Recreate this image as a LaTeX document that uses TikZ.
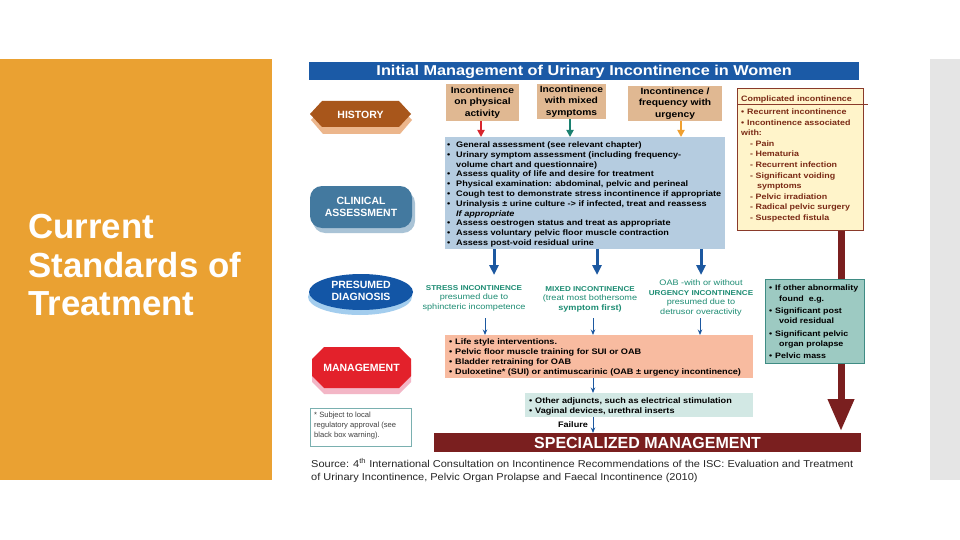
\documentclass[tikz,border=0pt]{standalone}
\usepackage{fontspec}
\setmainfont{Liberation Sans}
\newfontfamily\wfont[FakeStretch=1.14]{Liberation Sans}
\newfontfamily\sfont[FakeStretch=1.1]{Liberation Sans}
\usetikzlibrary{arrows.meta,shapes.geometric,calc}
\definecolor{orangebg}{HTML}{EAA132}
\definecolor{graybar}{HTML}{E5E5E5}
\definecolor{titleblue}{HTML}{1B5AA6}
\definecolor{tanc}{HTML}{E0B892}
\definecolor{clinc}{HTML}{B5CCE0}
\definecolor{compfill}{HTML}{FFF4CA}
\definecolor{compdraw}{HTML}{8A3A2A}
\definecolor{comptext}{HTML}{7A2A15}
\definecolor{tealfill}{HTML}{9DCAC2}
\definecolor{tealdraw}{HTML}{3F8C84}
\definecolor{salmon}{HTML}{F8BBA0}
\definecolor{adjc}{HTML}{D2E8E4}
\definecolor{maroon}{HTML}{7A1F1F}
\definecolor{diagt}{HTML}{1D8C73}
\definecolor{histc}{HTML}{A8561B}
\definecolor{histsh}{HTML}{ECB68C}
\definecolor{clinbl}{HTML}{43799F}
\definecolor{clinsh}{HTML}{A9C3D6}
\definecolor{presc}{HTML}{1356A6}
\definecolor{pressh}{HTML}{A3CDEE}
\definecolor{mgmtc}{HTML}{E3212B}
\definecolor{mgmtsh}{HTML}{F3B6C6}
\definecolor{arrred}{HTML}{D8262E}
\definecolor{arrteal}{HTML}{1A8070}
\definecolor{arrorange}{HTML}{F0A030}
\definecolor{arrblue}{HTML}{1C58A0}
\definecolor{footdraw}{HTML}{7AB0B0}
\newcommand{\mybul}[2][9pt]{\makebox[#1][l]{\textbullet}#2}
\newcommand{\mycont}[2][9pt]{\hspace*{#1}#2}
\newcommand{\capsb}[1]{{\fontsize{7.1}{9.4}\selectfont\bfseries #1}}
\begin{document}
\begin{tikzpicture}[x=1pt,y=-1pt,
  every node/.style={inner sep=0pt},
  rbox/.style={rectangle, anchor=north west},
  stagelbl/.style={text=white, font=\fontsize{10.5}{12.5}\selectfont\bfseries, align=center},
  listtxt/.style={anchor=north west, align=left, font=\wfont\fontsize{8}{9.8}\selectfont\bfseries},
  topbox/.style={fill=tanc, align=center, font=\wfont\fontsize{9}{11.3}\selectfont\bfseries},
  diagtxt/.style={text=diagt, align=center, font=\wfont\fontsize{8}{9.4}\selectfont},
  bigarr/.style={line width=3pt, arrblue, -{Triangle[width=9pt,length=10pt]}},
  toparr/.style={line width=2.2pt, -{Triangle[width=7pt,length=7pt]}},
  thinarr/.style={line width=0.9pt, arrblue, -{Stealth[width=4.5pt,length=5.5pt]}}]
\useasboundingbox (0,0) rectangle (960,540);
\fill[white] (0,0) rectangle (960,540);
% side panels
\fill[orangebg] (0,59) rectangle (272,480);
\fill[graybar] (930,59) rectangle (960,480);
\node[anchor=north west, align=left, text=white, font=\fontsize{34.8}{38.5}\selectfont\bfseries] (sidetitle) at (28,214) {Current\\Standards of\\Treatment};
% title bar
\node[rbox, fill=titleblue, minimum width=550, minimum height=18] (title) at (309,62) {};
\node[text=white, font=\wfont\fontsize{14.3}{15}\selectfont\bfseries] (titletxt) at ($(title.center)+(0,0.5)$) {Initial Management of Urinary Incontinence in Women};
% stage shapes
\fill[histsh] (311,120)--(323,107)--(400,107)--(412,120)--(400,134)--(323,134)--cycle;
\fill[histc] (310,114)--(322,101)--(399,101)--(411,114)--(399,127)--(322,127)--cycle;
\node[stagelbl] (hist) at (360.5,115) {HISTORY};
\fill[clinsh, rounded corners=12pt] (313,191) rectangle (415,233);
\fill[clinbl, rounded corners=12pt] (310,186) rectangle (412,228);
\node[stagelbl] (clinlbl) at (361,207) {CLINICAL\\ASSESSMENT};
\fill[pressh] (360,297) ellipse [x radius=52, y radius=18];
\fill[presc] (361,292) ellipse [x radius=52, y radius=18];
\node[stagelbl] (preslbl) at (361,291) {PRESUMED\\DIAGNOSIS};
\fill[mgmtsh] (324,353)--(399,353)--(411,365)--(411,382)--(399,394)--(324,394)--(312,382)--(312,365)--cycle;
\fill[mgmtc] (324,347)--(399,347)--(411,359)--(411,376)--(399,388)--(324,388)--(312,376)--(312,359)--cycle;
\node[stagelbl] (mgmtlbl) at (361.5,368) {MANAGEMENT};
% footnote box
\node[rbox, draw=footdraw, line width=0.6pt, fill=white, minimum width=101, minimum height=38] (foot) at (310,408) {};
\node[anchor=north west, align=left, text=black!75, font=\fontsize{7.6}{10}\selectfont] (foottxt) at (314,412) {* Subject to local\\regulatory approval (see\\black box warning).};
% top boxes
\node[topbox, minimum width=73, minimum height=37] (t1) at (482.5,102.5) {Incontinence\\on physical\\activity};
\node[topbox, minimum width=69, minimum height=35] (t2) at (571.5,101.5) {Incontinence\\with mixed\\symptoms};
\node[topbox, minimum width=94, minimum height=35] (t3) at (675,103.5) {Incontinence /\\frequency with\\urgency};
% clinical assessment box
\node[rbox, fill=clinc, minimum width=280, minimum height=112] (clin) at (445,137) {};
\node[listtxt] (clintxt) at (447,141.5) {\mybul{General assessment (see relevant chapter)}\\
\mybul{Urinary symptom assessment (including frequency-}\\
\mycont{volume chart and questionnaire)}\\
\mybul{Assess quality of life and desire for treatment}\\
\mybul{Physical examination: abdominal, pelvic and perineal}\\
\mybul{Cough test to demonstrate stress incontinence if appropriate}\\
\mybul{Urinalysis ± urine culture -> if infected, treat and reassess}\\
\mycont{\itshape If appropriate}\\
\mybul{Assess oestrogen status and treat as appropriate}\\
\mybul{Assess voluntary pelvic floor muscle contraction}\\
\mybul{Assess post-void residual urine}};
% complicated incontinence
\node[rbox, fill=compfill, draw=compdraw, line width=0.8pt, minimum width=126, minimum height=142] (comp) at (737,88) {};
\coordinate (hl) at (737,104.5);
\draw[compdraw, line width=0.8pt] (hl) -- ($(hl -| comp.east)+(4,0)$);
\node[listtxt, text=comptext, font=\wfont\fontsize{7.8}{10.6}\selectfont\bfseries] (comptxt) at (741,95.5) {Complicated incontinence\\[2.5pt]
\mybul[6pt]{Recurrent incontinence}\\
\mybul[6pt]{Incontinence associated}\\
with:\\
\mycont[9pt]{- Pain}\\
\mycont[9pt]{- Hematuria}\\
\mycont[9pt]{- Recurrent infection}\\
\mycont[9pt]{- Significant voiding}\\
\mycont[16pt]{symptoms}\\
\mycont[9pt]{- Pelvic irradiation}\\
\mycont[9pt]{- Radical pelvic surgery}\\
\mycont[9pt]{- Suspected fistula}};
% other abnormality box
\node[rbox, fill=tealfill, draw=tealdraw, line width=0.8pt, minimum width=99, minimum height=84] (abn) at (765,279) {};
\node[listtxt, font=\wfont\fontsize{7.8}{10.2}\selectfont\bfseries] (abntxt) at (769,285) {\mybul[6pt]{If other abnormality}\\
\mycont[10pt]{found\ \ e.g.}\\[2.5pt]
\mybul[6pt]{Significant post}\\
\mycont[10pt]{void residual}\\[2.5pt]
\mybul[6pt]{Significant pelvic}\\
\mycont[10pt]{organ prolapse}\\[1pt]
\mybul[6pt]{Pelvic mass}};
% diagnosis texts
\node[diagtxt] (d1) at (474,298) {\capsb{STRESS INCONTINENCE}\\presumed due to\\sphincteric incompetence};
\node[diagtxt] (d2) at (590,299) {\capsb{MIXED INCONTINENCE}\\(treat most bothersome\\\textbf{symptom first)}};
\node[diagtxt] (d3) at (701,298) {OAB -with or without\\\capsb{URGENCY INCONTINENCE}\\presumed due to\\detrusor overactivity};
% management box
\node[rbox, fill=salmon, minimum width=308, minimum height=43] (mgmt) at (445,335) {};
\node[listtxt, font=\wfont\fontsize{8}{9.9}\selectfont\bfseries] (mgmttxt) at (449,338.5) {\mybul[6pt]{Life style interventions.}\\
\mybul[6pt]{Pelvic floor muscle training for SUI or OAB}\\
\mybul[6pt]{Bladder retraining for OAB}\\
\mybul[6pt]{Duloxetine* (SUI) or antimuscarinic (OAB ± urgency incontinence)}};
% adjuncts box
\node[rbox, fill=adjc, minimum width=228, minimum height=24] (adj) at (525,393) {};
\node[listtxt, font=\wfont\fontsize{8}{10.5}\selectfont\bfseries] (adjtxt) at (529,397) {\mybul[6pt]{Other adjuncts, such as electrical stimulation}\\
\mybul[6pt]{Vaginal devices, urethral inserts}};
\node[font=\wfont\fontsize{8}{9}\selectfont\bfseries] (fail) at (573,425) {Failure};
% specialized management bar
\node[rbox, fill=maroon, minimum width=427, minimum height=19] (spec) at (434,433) {};
\node[text=white, font=\fontsize{16}{18}\selectfont\bfseries] (spectxt) at (647.5,442.5) {SPECIALIZED MANAGEMENT};
% source
\node[anchor=north west, align=left, text=black!85, font=\sfont\fontsize{10}{13}\selectfont] (src) at (311,458.5) {Source: 4\textsuperscript{th} International Consultation on Incontinence Recommendations of the ISC: Evaluation and Treatment\\of Urinary Incontinence, Pelvic Organ Prolapse and Faecal Incontinence (2010)};
% connectors: top boxes to clinical
\coordinate (c1) at (481,0); \coordinate (c2) at (570,0); \coordinate (c3) at (681,0);
\draw[toparr, arrred] (t1.south -| c1) -- (clin.north -| c1);
\draw[toparr, arrteal] (t2.south -| c2) -- (clin.north -| c2);
\draw[toparr, arrorange] (t3.south -| c3) -- (clin.north -| c3);
% clinical to diagnoses
\coordinate (a1) at (494,275); \coordinate (a2) at (597,275); \coordinate (a3) at (701,275);
\draw[bigarr] (clin.south -| a1) -- (a1);
\draw[bigarr] (clin.south -| a2) -- (a2);
\draw[bigarr] (clin.south -| a3) -- (a3);
% diagnoses to management
\coordinate (b1) at (485,318); \coordinate (b2) at (593,318); \coordinate (b3) at (700,318);
\draw[thinarr] (b1) -- (mgmt.north -| b1);
\draw[thinarr] (b2) -- (mgmt.north -| b2);
\draw[thinarr] (b3) -- (mgmt.north -| b3);
% management to adjuncts to specialized
\draw[thinarr] (mgmt.south -| b2) -- (adj.north -| b2);
\draw[thinarr] (adj.south -| b2) -- (spec.north -| b2);
% complicated route
\coordinate (r) at (841,0);
\draw[maroon, line width=7pt] (comp.south -| r) -- (abn.north -| r);
\draw[maroon, line width=7pt, -{Triangle[width=25pt,length=32pt]}] (abn.south -| r) -- ($(spec.north -| r)+(0,-2)$);
\end{tikzpicture}
\end{document}
